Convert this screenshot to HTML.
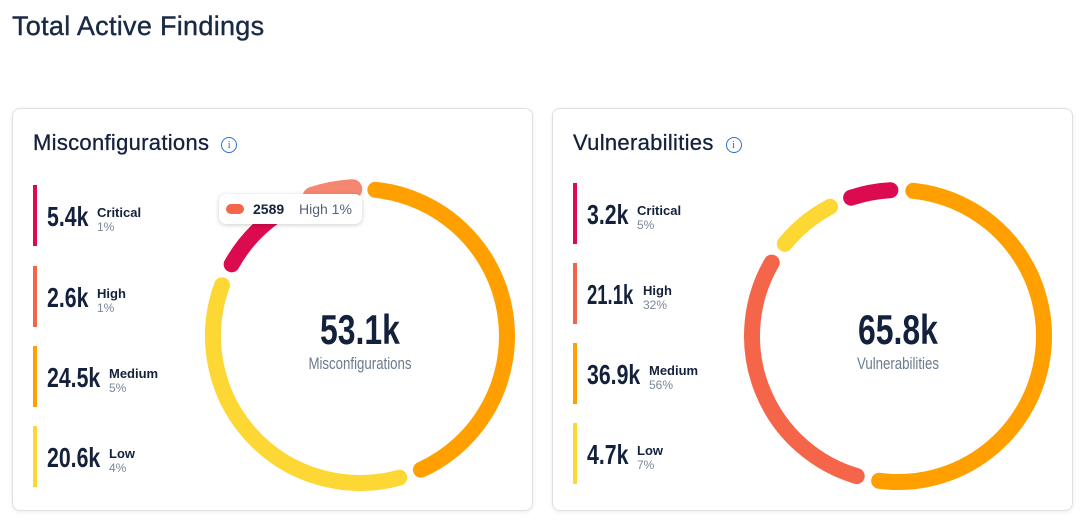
<!DOCTYPE html>
<html><head><meta charset="utf-8"><style>
body{margin:0;width:1084px;height:521px;background:#fff;font-family:"Liberation Sans",sans-serif;color:#14213d;position:relative;overflow:hidden}
.title{position:absolute;left:12px;top:11px;font-size:27px;color:#1b2a44;letter-spacing:0.3px;-webkit-text-stroke:0.4px #1b2a44}
.card{position:absolute;top:108px;width:519px;height:401px;border:1px solid #dde1e6;border-radius:8px;box-shadow:0 1px 4px rgba(0,0,0,.08);background:#fff}
.hdr{position:absolute;left:20px;top:21px;font-size:22px;color:#14213d;letter-spacing:0.3px;-webkit-text-stroke:0.3px #14213d}
.info{display:inline-block;width:14px;height:14px;border:1.5px solid #2a6fd6;border-radius:50%;color:#2a6fd6;font-size:11px;text-align:center;line-height:14px;margin-left:12px;vertical-align:2px;font-family:"Liberation Serif",serif;-webkit-text-stroke:0}
.item{position:absolute;left:20px;height:61px;border-left:4px solid}
.val{position:absolute;left:10px;top:16px;font-size:28px;font-weight:bold;transform:scaleX(.76);transform-origin:left;color:#14213d;white-space:nowrap}
.lbl{position:absolute;top:20px;font-size:13px;font-weight:bold;color:#14213d}
.pct{position:absolute;top:35px;font-size:12px;color:#7a8799}
svg{position:absolute;left:0;top:0}
.tip{position:absolute;left:219px;top:194px;width:143px;height:30px;background:#fff;border-radius:7px;box-shadow:0 1px 5px rgba(0,0,0,.2);font-size:14px}
</style></head><body>
<div class="title">Total Active Findings</div>
<div class="card" style="left:12px">
 <div class="hdr">Misconfigurations<span class="info">i</span></div>
 <div class="item" style="top:76px;border-color:#dc0a4e"><div class="val">5.4k</div><div class="lbl" style="left:60px">Critical</div><div class="pct" style="left:60px">1%</div></div>
 <div class="item" style="top:157px;border-color:#f5654a"><div class="val">2.6k</div><div class="lbl" style="left:60px">High</div><div class="pct" style="left:60px">1%</div></div>
 <div class="item" style="top:237px;border-color:#ffa000"><div class="val">24.5k</div><div class="lbl" style="left:72px">Medium</div><div class="pct" style="left:72px">5%</div></div>
 <div class="item" style="top:317px;border-color:#fdd835"><div class="val">20.6k</div><div class="lbl" style="left:72px">Low</div><div class="pct" style="left:72px">4%</div></div>
</div>
<div class="card" style="left:552px">
 <div class="hdr">Vulnerabilities<span class="info">i</span></div>
 <div class="item" style="top:74px;border-color:#dc0a4e"><div class="val">3.2k</div><div class="lbl" style="left:60px">Critical</div><div class="pct" style="left:60px">5%</div></div>
 <div class="item" style="top:154px;border-color:#f5654a"><div class="val" style="transform:scaleX(.66)">21.1k</div><div class="lbl" style="left:66px">High</div><div class="pct" style="left:66px">32%</div></div>
 <div class="item" style="top:234px;border-color:#ffa000"><div class="val">36.9k</div><div class="lbl" style="left:72px">Medium</div><div class="pct" style="left:72px">56%</div></div>
 <div class="item" style="top:314px;border-color:#fdd835"><div class="val">4.7k</div><div class="lbl" style="left:60px">Low</div><div class="pct" style="left:60px">7%</div></div>
</div>
<svg id="chart" width="1084" height="521"></svg>
<div class="tip">
 <span style="position:absolute;left:7px;top:10px;width:18px;height:10px;border-radius:5px;background:#f5654a"></span>
 <span style="position:absolute;left:34px;top:7px;font-weight:bold;color:#14213d">2589</span>
 <span style="position:absolute;left:80px;top:7px;color:#55637a">High 1%</span>
</div>
<script>
const misCategories=["Medium","Low","Critical","High"];
const misValues=[24.5,20.6,5.4,2.6];
const vulCategories=["Medium","High","Low","Critical"];
const vulValues=[36.9,21.1,4.7,3.2];
const colorMap={Medium:"#ffa000",Low:"#fdd835",Critical:"#dc0a4e",High:"#f5654a"};
const svg=document.getElementById('chart');
const NS="http://www.w3.org/2000/svg";
function pt(cx,cy,r,a){const t=a*Math.PI/180;return [cx+r*Math.sin(t),cy-r*Math.cos(t)];}
function donut(cx,cy,r,cats,vals,total,label,hover){
  const gap=9,start=6,avail=360-gap*vals.length;
  const sum=vals.reduce((a,b)=>a+b,0);
  let a=start;
  vals.forEach((v,i)=>{
    const sw=v/sum*avail;
    const p1=pt(cx,cy,r,a),p2=pt(cx,cy,r,a+sw);
    const path=document.createElementNS(NS,'path');
    path.setAttribute('d',`M${p1[0]} ${p1[1]} A${r} ${r} 0 ${sw>180?1:0} 1 ${p2[0]} ${p2[1]}`);
    path.setAttribute('fill','none');
    path.setAttribute('stroke',cats[i]===hover?'#f58770':colorMap[cats[i]]);
    path.setAttribute('stroke-width',cats[i]===hover?20:16);
    path.setAttribute('stroke-linecap','round');
    
    
    svg.appendChild(path);
    a+=sw+gap;
  });
  const t=document.createElementNS(NS,'text');
  t.setAttribute('x',cx);t.setAttribute('y',cy+8);t.setAttribute('text-anchor','middle');
  t.setAttribute('font-size','42');t.setAttribute('font-weight','bold');t.setAttribute('fill','#14213d');
  t.setAttribute('transform',`translate(${cx} 0) scale(0.76 1) translate(${-cx} 0)`);
  t.textContent=total;
  
  
  svg.appendChild(t);
  const l=document.createElementNS(NS,'text');
  l.setAttribute('x',cx);l.setAttribute('y',cy+33);l.setAttribute('text-anchor','middle');
  l.setAttribute('font-size','17');l.setAttribute('fill','#6b7a8f');
  l.setAttribute('transform',`translate(${cx} 0) scale(0.78 1) translate(${-cx} 0)`);
  l.textContent=label;
  
  
  svg.appendChild(l);
}
donut(360,336,147,misCategories,misValues,"53.1k","Misconfigurations","High");
donut(898,336,146,vulCategories,vulValues,"65.8k","Vulnerabilities",null);
</script>
</body></html>
